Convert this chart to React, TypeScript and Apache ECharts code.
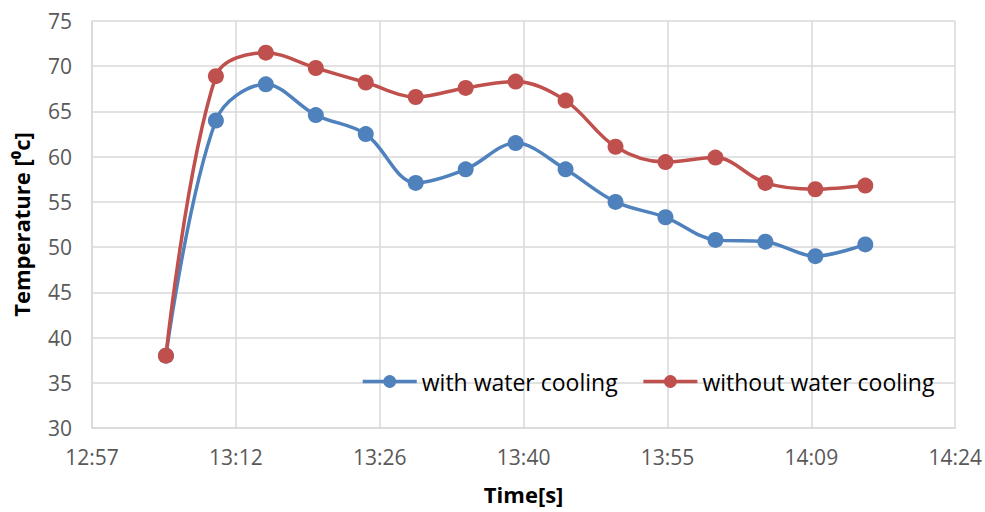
import React, { useEffect, useRef } from "react";
import * as echarts from "echarts";

const times = ["13:05", "13:10", "13:15", "13:20", "13:25", "13:30", "13:35", "13:40", "13:45", "13:50", "13:55", "14:00", "14:05", "14:10", "14:15"];
const withCooling = [38, 64.0, 68.0, 64.6, 62.5, 57.1, 58.6, 61.5, 58.6, 55.0, 53.3, 50.8, 50.6, 49.0, 50.3];
const withoutCooling = [38, 68.9, 71.5, 69.8, 68.2, 66.6, 67.6, 68.3, 66.2, 61.1, 59.4, 59.9, 57.1, 56.4, 56.8];
const seriesNames = ["with water cooling", "without water cooling"];
const yTitle = "Temperature [⁰c]";
const xTitle = "Time[s]";

const toMin = (t: string) => {
  const [h, m] = t.split(":").map(Number);
  return h * 60 + m;
};
const fmt = (v: number) => {
  const r = Math.floor(Math.round(v * 10) / 10 + 1e-6);
  const h = Math.floor(r / 60);
  const m = r % 60;
  return `${h}:${m < 10 ? "0" + m : m}`;
};

const FONT = "'Open Sans', sans-serif";

export default function App() {
  const ref = useRef<HTMLDivElement>(null);
  useEffect(() => {
    if (!ref.current) return;
    const chart = echarts.init(ref.current, undefined, { renderer: "svg" });
    const mk = (vals: number[]) => times.map((t, i) => [toMin(t), vals[i]]);
    chart.setOption({
      animation: false,
      backgroundColor: "#ffffff",
      textStyle: { fontFamily: FONT },
      grid: { left: 92, right: 28, top: 21, bottom: 84 },
      legend: {
        left: 356,
        top: 365,
        itemWidth: 54,
        itemHeight: 16,
        itemGap: 24,
        lineStyle: { width: 3.5 },
        textStyle: { fontSize: 23, color: "#000000", fontFamily: FONT },
        data: seriesNames,
      },
      xAxis: {
        type: "value",
        min: 777.6,
        max: 864,
        interval: 14.4,
        name: xTitle,
        nameLocation: "middle",
        nameGap: 55,
        nameTextStyle: { fontSize: 22, fontWeight: "bold", color: "#000000", fontFamily: FONT },
        axisLine: { show: true, lineStyle: { color: "#d9d9d9", width: 1.5 } },
        axisTick: { show: false },
        splitLine: { show: true, lineStyle: { color: "#d9d9d9", width: 1.5 } },
        axisLabel: { formatter: (v: number) => fmt(v), fontSize: 21, color: "#595959", margin: 18, fontFamily: FONT },
      },
      yAxis: {
        type: "value",
        min: 30,
        max: 75,
        interval: 5,
        name: yTitle,
        nameLocation: "middle",
        nameGap: 60,
        nameTextStyle: { fontSize: 22, fontWeight: "bold", color: "#000000", fontFamily: FONT },
        axisLine: { show: true, lineStyle: { color: "#d9d9d9", width: 1.5 } },
        axisTick: { show: false },
        splitLine: { show: true, lineStyle: { color: "#d9d9d9", width: 1.5 } },
        axisLabel: { fontSize: 21, color: "#595959", margin: 20, fontFamily: FONT },
      },
      series: [
        {
          name: seriesNames[0],
          type: "line",
          data: mk(withCooling),
          smooth: 0.35,
          symbol: "circle",
          symbolSize: 16,
          lineStyle: { color: "#4f81bd", width: 3.5 },
          itemStyle: { color: "#4f81bd" },
        },
        {
          name: seriesNames[1],
          type: "line",
          data: mk(withoutCooling),
          smooth: 0.35,
          symbol: "circle",
          symbolSize: 16,
          lineStyle: { color: "#c0504d", width: 3.5 },
          itemStyle: { color: "#c0504d" },
        },
      ],
    });
    return () => chart.dispose();
  }, []);
  return <div ref={ref} style={{ width: 985, height: 512, position: "absolute", left: 0, top: 0 }} />;
}
